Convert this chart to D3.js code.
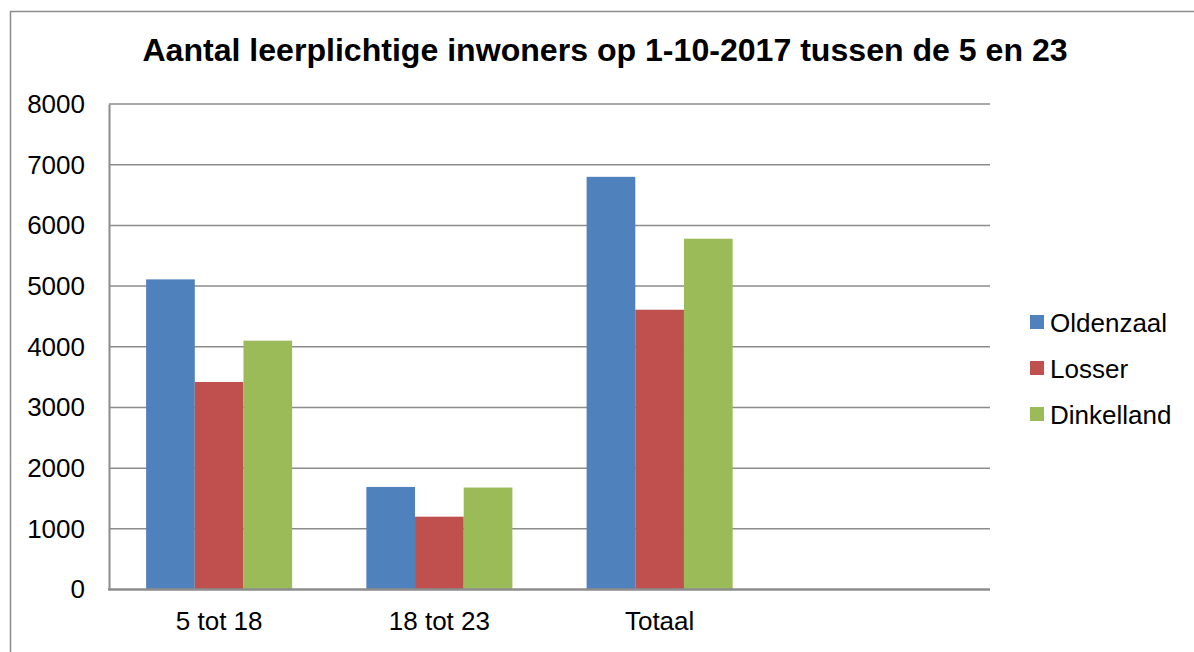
<!DOCTYPE html>
<html>
<head>
<meta charset="utf-8">
<script src="https://cdn.jsdelivr.net/npm/d3@7"></script>
<style>
  html, body { margin: 0; padding: 0; background: #fff; }
  svg { display: block; font-family: "Liberation Sans", Arial, sans-serif; }
</style>
</head>
<body>
<svg id="chart" width="1194" height="652"></svg>
<script>
const title = "Aantal leerplichtige inwoners op 1-10-2017 tussen de 5 en 23";
const categories = ["5 tot 18", "18 tot 23", "Totaal", ""];
const seriesNames = ["Oldenzaal", "Losser", "Dinkelland"];
const oldenzaal = [5110, 1690, 6800, null];
const losser = [3420, 1200, 4610, null];
const dinkelland = [4100, 1680, 5780, null];
const yTicks = [0, 1000, 2000, 3000, 4000, 5000, 6000, 7000, 8000];
const colors = ["#4F81BD", "#C0504D", "#9BBB59"];

const seriesValues = [oldenzaal, losser, dinkelland];
const data = categories.map((c, i) => ({
  cat: c,
  values: seriesNames.map((s, j) => ({ series: s, value: seriesValues[j][i] }))
}));

const svg = d3.select("#chart");

// outer frame
svg.append("rect")
  .attr("x", 10.5).attr("y", 11.5)
  .attr("width", 1300).attr("height", 800)
  .attr("fill", "none").attr("stroke", "#8c8c8c").attr("stroke-width", 1.5);

const plot = { left: 109, right: 990, top: 104, bottom: 589.5 };

const y = d3.scaleLinear().domain([0, 8000]).range([plot.bottom, plot.top]);
const x0 = d3.scaleBand().domain(categories).range([plot.left, plot.right])
  .paddingInner(0.337).paddingOuter(0.1685);
const x1 = d3.scaleBand().domain(seriesNames).range([0, x0.bandwidth()]);
const color = d3.scaleOrdinal().domain(seriesNames).range(colors);

// gridlines
svg.append("g")
  .selectAll("line")
  .data(yTicks.filter(d => d > 0))
  .join("line")
  .attr("x1", plot.left).attr("x2", plot.right)
  .attr("y1", d => y(d)).attr("y2", d => y(d))
  .attr("stroke", "#8c8c8c").attr("stroke-width", 1.5);

// bars
svg.append("g")
  .selectAll("g")
  .data(data)
  .join("g")
  .attr("transform", d => `translate(${x0(d.cat)},0)`)
  .selectAll("rect")
  .data(d => d.values.filter(v => v.value != null))
  .join("rect")
  .attr("x", d => x1(d.series))
  .attr("width", x1.bandwidth())
  .attr("y", d => y(d.value))
  .attr("height", d => y(0) - y(d.value))
  .attr("fill", d => color(d.series));

// y axis
const yAxis = svg.append("g")
  .attr("transform", `translate(${plot.left},0)`)
  .call(d3.axisLeft(y).tickValues(yTicks).tickSize(0).tickPadding(24).tickFormat(d3.format("d")));
yAxis.select(".domain").attr("stroke", "#8c8c8c").attr("stroke-width", 2);
yAxis.selectAll("text")
  .attr("font-size", 26).attr("fill", "#000")
  .style("font-family", '"Liberation Sans", Arial, sans-serif');

// x axis
const xAxis = svg.append("g")
  .attr("transform", `translate(0,${plot.bottom})`)
  .call(d3.axisBottom(x0).tickSize(0).tickPadding(22));
xAxis.select(".domain").remove();
svg.append("line")
  .attr("x1", plot.left - 1).attr("x2", plot.right)
  .attr("y1", plot.bottom).attr("y2", plot.bottom)
  .attr("stroke", "#8c8c8c").attr("stroke-width", 2.5);
xAxis.selectAll("text")
  .attr("font-size", 26).attr("fill", "#000")
  .style("font-family", '"Liberation Sans", Arial, sans-serif');

// title
svg.append("text")
  .attr("x", 605).attr("y", 61)
  .attr("text-anchor", "middle")
  .attr("font-size", 32.1).attr("font-weight", "bold")
  .attr("fill", "#000")
  .text(title);

// legend
const legend = svg.append("g")
  .selectAll("g")
  .data(seriesNames)
  .join("g")
  .attr("transform", (d, i) => `translate(1030,${322 + i * 46})`);
legend.append("rect")
  .attr("x", 0).attr("y", -7).attr("width", 14).attr("height", 14)
  .attr("fill", d => color(d));
legend.append("text")
  .attr("x", 20).attr("y", 9.5)
  .attr("font-size", 26).attr("fill", "#000")
  .text(d => d);
</script>
</body>
</html>
